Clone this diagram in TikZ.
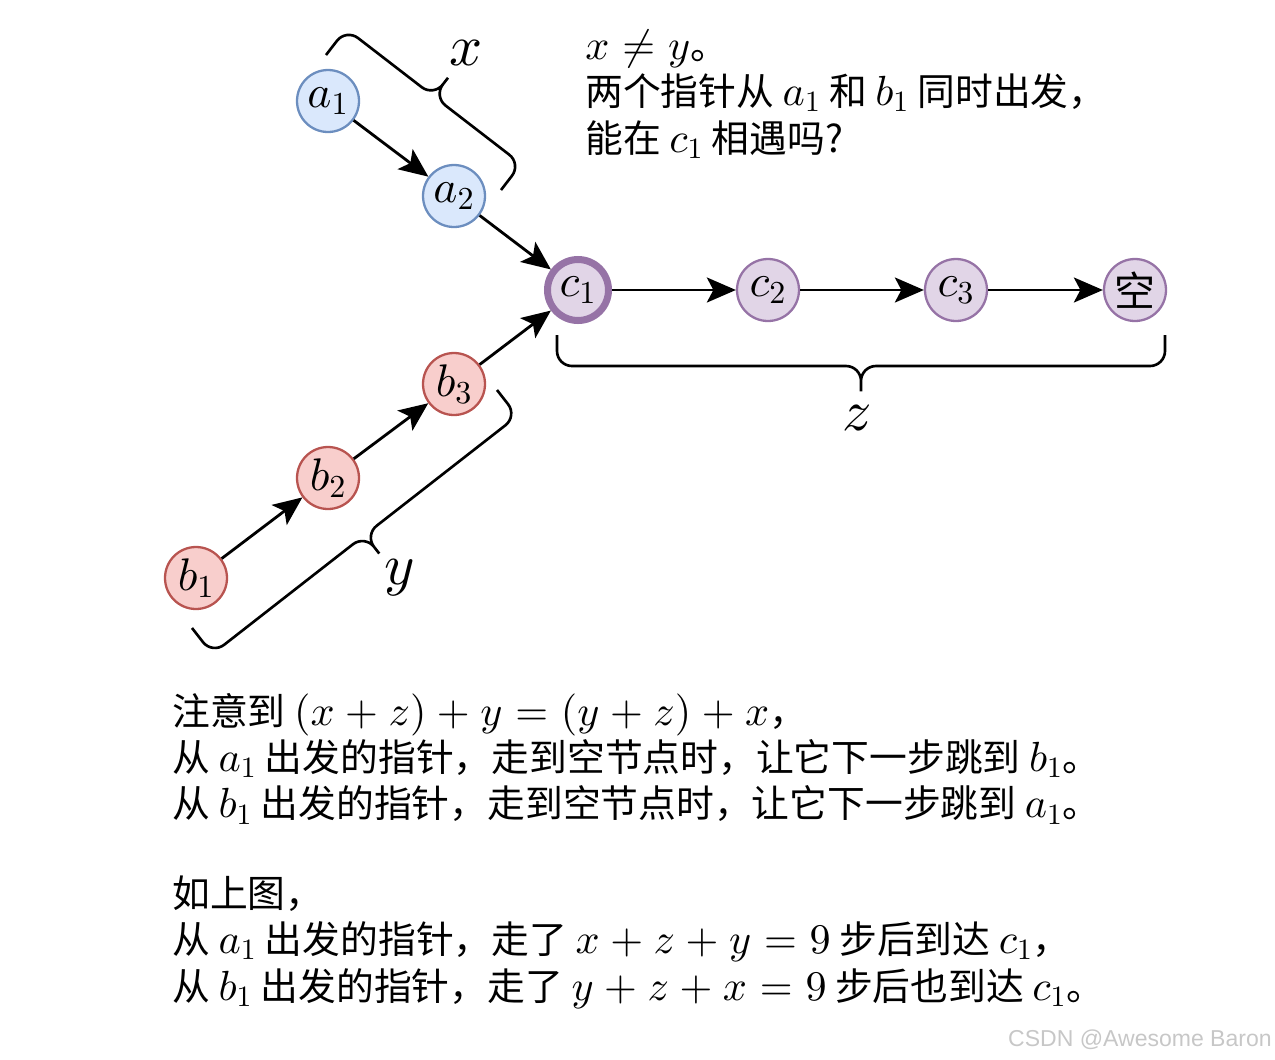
\documentclass[tikz,border=0pt]{standalone}
\usepackage[no-math]{fontspec}
\setmainfont{Noto Sans CJK SC}[Scale=0.896]
\newfontfamily\marksans{Liberation Sans}
\DeclareFontShape{OT1}{cmr}{m}{n}{<->cmr10}{}
\DeclareFontShape{OML}{cmm}{m}{it}{<->cmmi10}{}
\DeclareFontShape{OMS}{cmsy}{m}{n}{<->cmsy10}{}
\DeclareFontShape{OMX}{cmex}{m}{n}{<->cmex10}{}
\usetikzlibrary{arrows.meta,calc}
\definecolor{bluefill}{HTML}{DAE8FC}
\definecolor{blueline}{HTML}{6C8EBF}
\definecolor{redfill}{HTML}{F8CECC}
\definecolor{redline}{HTML}{B85450}
\definecolor{purplefill}{HTML}{E1D5E7}
\definecolor{purpleline}{HTML}{9673A6}
\newcommand\notefont{\fontsize{24}{26.4}\selectfont\medmuskip=4.5mu\relax\thickmuskip=5.5mu\relax}
\begin{document}
\begin{tikzpicture}[x=0.02cm, y=-0.02cm,
  listnode/.style={circle, line width=1.3pt, minimum size=1.24cm, inner sep=0pt, font=\fontsize{26}{30}\selectfont},
  anode/.style={listnode, draw=blueline, fill=bluefill},
  bnode/.style={listnode, draw=redline, fill=redfill},
  cnode/.style={listnode, draw=purpleline, fill=purplefill},
  link/.style={-{Stealth[length=0.58cm, width=0.5cm, inset=0.13cm]}, line width=1.6pt},
  lenbrace/.style={line width=1.5pt, rounded corners=0.3cm},
  lenlabel/.style={font=\fontsize{33}{40}\selectfont},
  notetext/.style={align=left, anchor=base west, inner sep=0pt, font={\notefont}}]
\useasboundingbox (0,0) rectangle (1275,1059);
\node[anode] (a1) at (328,101) {$a_1$};
\node[anode] (a2) at (454,196) {$a_2$};
\node[bnode] (b1) at (196,578) {$b_1$};
\node[bnode] (b2) at (328,478) {$b_2$};
\node[bnode] (b3) at (454,384) {$b_3$};
\node[cnode, line width=4pt, minimum size=1.22cm] (c1) at (578,290) {$c_1$};
\node[cnode] (c2) at (768,290) {$c_2$};
\node[cnode] (c3) at (956,290) {$c_3$};
\node[cnode] (nil) at (1135,290) {空};
\draw[link] (a1) -- (a2);
\draw[link] (a2) -- (c1);
\draw[link] (b1) -- (b2);
\draw[link] (b2) -- (b3);
\draw[link] (b3) -- (c1);
\draw[link] (c1) -- (c2);
\draw[link] (c2) -- (c3);
\draw[link] (c3) -- (nil);
% braces
\coordinate (xs) at (326,55);
\coordinate (xe) at (501,190);
\coordinate (xm) at ($(xs)!0.5!(xe)$);
\draw[lenbrace] (xs) -- ($(xs)!0.66cm!90:(xe)$) -- ($(xm)!0.66cm!90:(xe)$) -- ($(xm)!1.13cm!90:(xe)$)
  (xe) -- ($(xe)!0.66cm!-90:(xs)$) -- ($(xm)!0.66cm!90:(xe)$) -- ($(xm)!1.13cm!90:(xe)$);
\coordinate (ys) at (497,390);
\coordinate (ye) at (192,628);
\coordinate (ym) at ($(ys)!0.5!(ye)$);
\draw[lenbrace] (ys) -- ($(ys)!0.66cm!90:(ye)$) -- ($(ym)!0.66cm!90:(ye)$) -- ($(ym)!1.13cm!90:(ye)$)
  (ye) -- ($(ye)!0.66cm!-90:(ys)$) -- ($(ym)!0.66cm!90:(ye)$) -- ($(ym)!1.13cm!90:(ye)$);
\coordinate (zs) at (1165,335);
\coordinate (ze) at (557,335);
\coordinate (zm) at ($(zs)!0.5!(ze)$);
\draw[lenbrace] (zs) -- ($(zs)!0.62cm!90:(ze)$) -- ($(zm)!0.62cm!90:(ze)$) -- ($(zm)!1.13cm!90:(ze)$)
  (ze) -- ($(ze)!0.62cm!-90:(zs)$) -- ($(zm)!0.62cm!90:(ze)$) -- ($(zm)!1.13cm!90:(ze)$);
\node[lenlabel] (xlabel) at (466,53) {$x$};
\node[lenlabel] (ylabel) at (400,578) {$y$};
\node[lenlabel] (zlabel) at (857,418) {$z$};
% texts
\node[notetext] (question) at (585,152) {$x \neq y$。\\两个指针从 $a_1$ 和 $b_1$ 同时出发，\\能在 $c_1$ 相遇吗?};
\node[notetext] (remark) at (172,1000) {注意到 $(x+z)+y=(y+z)+x$，\\从 $a_1$ 出发的指针，走到空节点时，让它下一步跳到 $b_1$。\\从 $b_1$ 出发的指针，走到空节点时，让它下一步跳到 $a_1$。\\[24.5pt]如上图，\\从 $a_1$ 出发的指针，走了 $x+z+y=9$ 步后到达 $c_1$，\\从 $b_1$ 出发的指针，走了 $y+z+x=9$ 步后也到达 $c_1$。};
\node[anchor=base east, inner sep=0pt, text=black!22, font=\marksans\fontsize{13.1}{15}\selectfont] (mark) at (1272,1046) {CSDN @Awesome Baron};
\end{tikzpicture}
\end{document}
